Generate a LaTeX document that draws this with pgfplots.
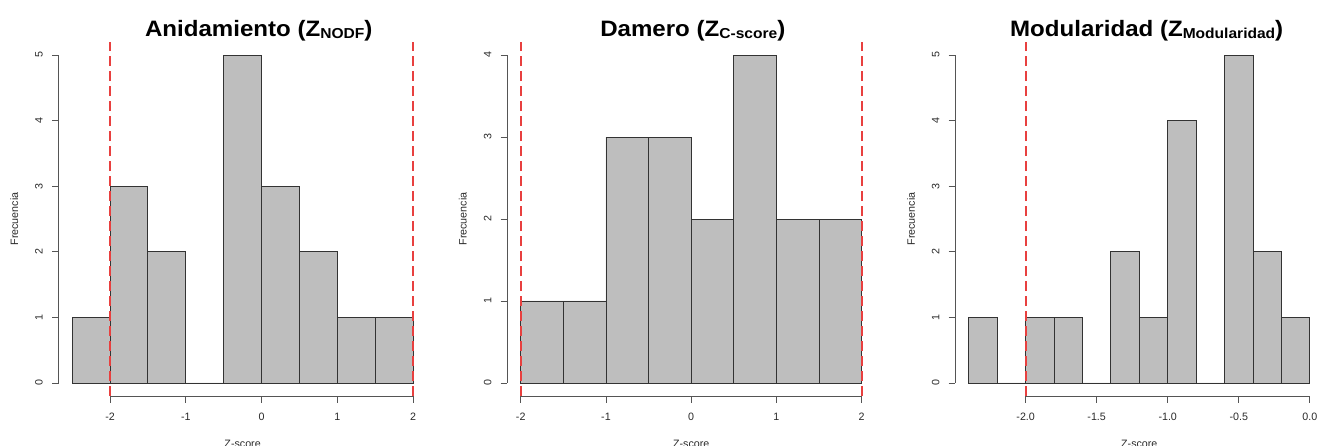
\documentclass[border=0pt]{standalone}
\usepackage{pgfplots}
\pgfplotsset{compat=1.18}
\usepackage{fontspec}
\setmainfont{Liberation Sans}
\definecolor{barfill}{HTML}{BEBEBE}
\definecolor{barline}{HTML}{333333}
\definecolor{axgray}{HTML}{555555}
\definecolor{txtgray}{HTML}{2A2A2A}
\definecolor{zred}{HTML}{E8403F}
\pgfplotsset{
  rhist/.style={
    scale only axis, width=368.2pt, height=354.2pt,
    anchor=south west,
    axis line style={draw=none},
    axis x line*=bottom, axis y line*=left,
    tick align=outside, major tick length=6.5pt,
    tick style={axgray, line width=0.9pt},
    font=\fontsize{10.7}{12}\selectfont,
    /pgf/number format/assume math mode=true,
    ticklabel style={text=txtgray},
    xticklabel style={anchor=center, yshift=-14.2pt},
    yticklabel style={rotate=90, anchor=center, yshift=13pt},
    xlabel={Z-score}, ylabel={Frecuencia},
    xlabel style={at={(axis description cs:0.5,-0.1437)}, anchor=base, text=txtgray},
    ylabel style={at={(axis description cs:-0.12,0.5)}, anchor=center, text=txtgray},
    clip=false,
  },
  histbar/.style={ybar interval, fill=barfill, draw=barline, line width=0.9pt},
  zline/.style={zred, line width=2.2pt, dash pattern=on 10pt off 5pt, forget plot},
}
\tikzset{ttl/.style={anchor=base, xscale=1.08, font=\fontsize{22.3}{24}\selectfont\bfseries}}
\newcommand{\zsub}[1]{\raisebox{-2pt}{\fontsize{14.4}{15}\selectfont #1}}
\begin{document}
\begin{tikzpicture}[x=1pt,y=1pt]
\useasboundingbox (0,0) rectangle (1319,445);
% Panel 1
\begin{axis}[rhist, at={(58.5pt,48.9pt)},
  xmin=-2.68, xmax=2.18, ymin=-0.2, ymax=5.2,
  xtick={-2,-1,0,1,2}, ytick={0,1,2,3,4,5}]
\addplot[histbar] coordinates {(-2.5,1) (-2,3) (-1.5,2) (-1,0) (-0.5,5) (0,3) (0.5,2) (1,1) (1.5,1) (2,0)};
\draw[axgray, line width=0.9pt] (axis cs:-2,-0.2) -- (axis cs:2,-0.2);
\draw[axgray, line width=0.9pt] (axis cs:-2.68,0) -- (axis cs:-2.68,5);
\addplot[zline] coordinates {(-2,-0.2) (-2,5.2)};
\addplot[zline] coordinates {(2,-0.2) (2,5.2)};
\end{axis}
% Panel 2
\begin{axis}[rhist, at={(507.1pt,48.9pt)},
  xmin=-2.16, xmax=2.16, ymin=-0.16, ymax=4.16,
  xtick={-2,-1,0,1,2}, ytick={0,1,2,3,4}]
\addplot[histbar] coordinates {(-2,1) (-1.5,1) (-1,3) (-0.5,3) (0,2) (0.5,4) (1,2) (1.5,2) (2,0)};
\draw[axgray, line width=0.9pt] (axis cs:-2,-0.16) -- (axis cs:2,-0.16);
\draw[axgray, line width=0.9pt] (axis cs:-2.16,0) -- (axis cs:-2.16,4);
\addplot[zline] coordinates {(-2,-0.16) (-2,4.16)};
\addplot[zline] coordinates {(2,-0.16) (2,4.16)};
\end{axis}
% Panel 3
\begin{axis}[rhist, at={(955.2pt,48.9pt)},
  xmin=-2.496, xmax=0.096, ymin=-0.2, ymax=5.2,
  xtick={-2,-1.5,-1,-0.5,0}, ytick={0,1,2,3,4,5},
  xticklabel style={/pgf/number format/.cd, fixed, fixed zerofill, precision=1}]
\addplot[histbar] coordinates {(-2.4,1) (-2.2,0) (-2.0,1) (-1.8,1) (-1.6,0) (-1.4,2) (-1.2,1) (-1.0,4) (-0.8,0) (-0.6,5) (-0.4,2) (-0.2,1) (0,0)};
\draw[axgray, line width=0.9pt] (axis cs:-2,-0.2) -- (axis cs:0,-0.2);
\draw[axgray, line width=0.9pt] (axis cs:-2.496,0) -- (axis cs:-2.496,5);
\addplot[zline] coordinates {(-2,-0.2) (-2,5.2)};
\end{axis}
% Titles
\node[ttl] at (258.7,408.3) {Anidamiento (Z\zsub{NODF})};
\node[ttl] at (692.8,408.3) {Damero (Z\zsub{C-score})};
\node[ttl] at (1146.7,408.3) {Modularidad (Z\zsub{Modularidad})};
\end{tikzpicture}
\end{document}
